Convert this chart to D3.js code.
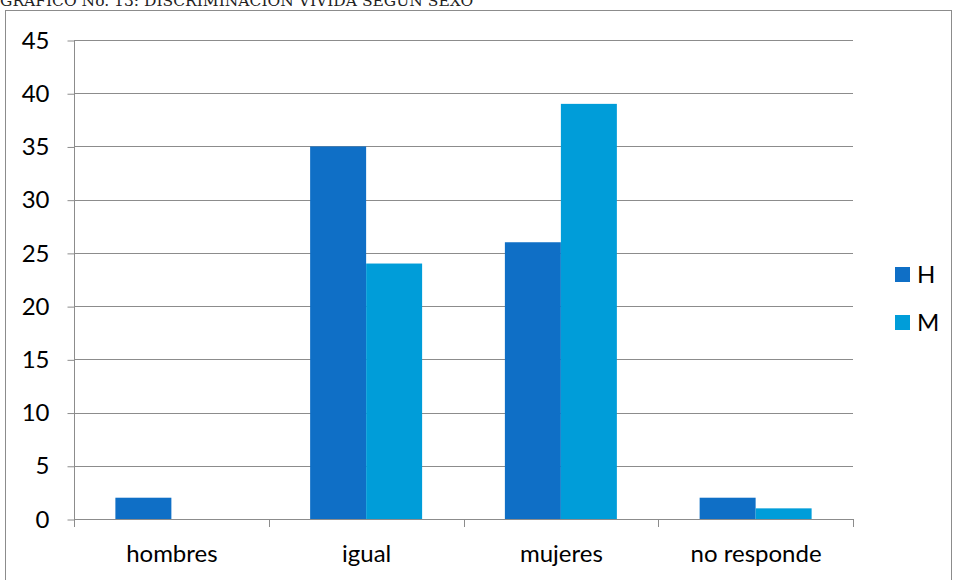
<!DOCTYPE html>
<html>
<head>
<meta charset="utf-8">
<script src="https://cdn.jsdelivr.net/npm/d3@7"></script>
<style>
  html, body { margin: 0; padding: 0; background: #fff; }
  svg { display: block; }
</style>
</head>
<body>
<script>
// Discriminación vivida según sexo
const categories = ["hombres", "igual", "mujeres", "no responde"];
const seriesNames = ["H", "M"];
const valuesH = [2, 35, 26, 2];
const valuesM = [0, 24, 39, 1];
const yTicks = [0, 5, 10, 15, 20, 25, 30, 35, 40, 45];
const title = "GRÁFICO No. 13: DISCRIMINACIÓN VIVIDA SEGÚN SEXO";

const colors = { H: "#0F6FC6", M: "#009DD9" };
const W = 953, H = 580;
const plot = { left: 74, right: 853, top: 40, bottom: 519 };
const labelFont = "Lato, 'Open Sans', sans-serif";
const labelSize = 24;

const svg = d3.select("body").append("svg").attr("width", W).attr("height", H);

// Title (runs off the top edge of the page)
svg.append("text")
  .attr("x", 0).attr("y", 6)
  .attr("font-family", "'DejaVu Serif', serif")
  .attr("font-size", 15.5)
  .attr("fill", "#222")
  .text(title);

// Chart frame
svg.append("rect")
  .attr("x", 5.5).attr("y", 10.5)
  .attr("width", 946).attr("height", 600)
  .attr("fill", "none").attr("stroke", "#8c8c8c").attr("stroke-width", 1);

const x0 = d3.scaleBand().domain(categories).range([plot.left, plot.right]).paddingInner(0).paddingOuter(0);
const gapRatio = 0.425; // share of category width left empty around the pair
const x1 = d3.scaleBand().domain(seriesNames)
  .range([x0.bandwidth() * gapRatio / 2, x0.bandwidth() * (1 - gapRatio / 2)]).padding(0);
const y = d3.scaleLinear().domain([0, 45]).range([plot.bottom, plot.top]);

// Gridlines
svg.append("g").selectAll("line").data(yTicks.filter(t => t > 0)).join("line")
  .attr("x1", plot.left).attr("x2", plot.right)
  .attr("y1", d => Math.round(y(d)) + 0.5).attr("y2", d => Math.round(y(d)) + 0.5)
  .attr("stroke", "#8c8c8c").attr("stroke-width", 1);

// Y axis
const yAxis = svg.append("g").attr("transform", `translate(${plot.left + 0.5},0.5)`)
  .call(d3.axisLeft(y).tickValues(yTicks).tickSize(7).tickPadding(18).tickFormat(d3.format("d")));
yAxis.select(".domain").attr("stroke", "#8c8c8c").attr("d", `M0,${plot.top}V${plot.bottom}`);
yAxis.selectAll(".tick line").attr("stroke", "#8c8c8c");
yAxis.selectAll(".tick text").attr("font-family", labelFont).attr("font-size", labelSize).attr("fill", "#000");

// Bars
const groups = svg.append("g").selectAll("g").data(categories).join("g")
  .attr("transform", d => `translate(${x0(d)},0)`);
groups.selectAll("rect")
  .data((d, i) => seriesNames.map(s => ({ s, v: (s === "H" ? valuesH : valuesM)[i] })))
  .join("rect")
  .attr("x", d => x1(d.s)).attr("width", x1.bandwidth())
  .attr("y", d => y(d.v)).attr("height", d => y(0) - y(d.v))
  .attr("fill", d => colors[d.s]);

// X axis
const xAxis = svg.append("g").attr("transform", `translate(0.5,${plot.bottom + 0.5})`)
  .call(d3.axisBottom(x0).tickSize(0).tickPadding(25));
xAxis.select(".domain").attr("stroke", "#8c8c8c").attr("d", `M${plot.left},0H${plot.right}`);
xAxis.selectAll(".tick text").attr("font-family", labelFont).attr("font-size", labelSize).attr("fill", "#000");
// category separators
svg.append("g").selectAll("line")
  .data(d3.range(categories.length + 1).map(i => plot.left + i * x0.step()))
  .join("line")
  .attr("x1", d => Math.round(d) + 0.5).attr("x2", d => Math.round(d) + 0.5)
  .attr("y1", plot.bottom).attr("y2", plot.bottom + 8)
  .attr("stroke", "#8c8c8c");

// Legend
const legend = svg.append("g").selectAll("g").data(seriesNames).join("g")
  .attr("transform", (d, i) => `translate(895,${267 + i * 48})`);
legend.append("rect").attr("width", 15).attr("height", 15).attr("fill", d => colors[d]);
legend.append("text").attr("x", 22).attr("y", 15.5)
  .attr("font-family", labelFont).attr("font-size", labelSize).attr("fill", "#000")
  .text(d => d);
</script>
</body>
</html>
